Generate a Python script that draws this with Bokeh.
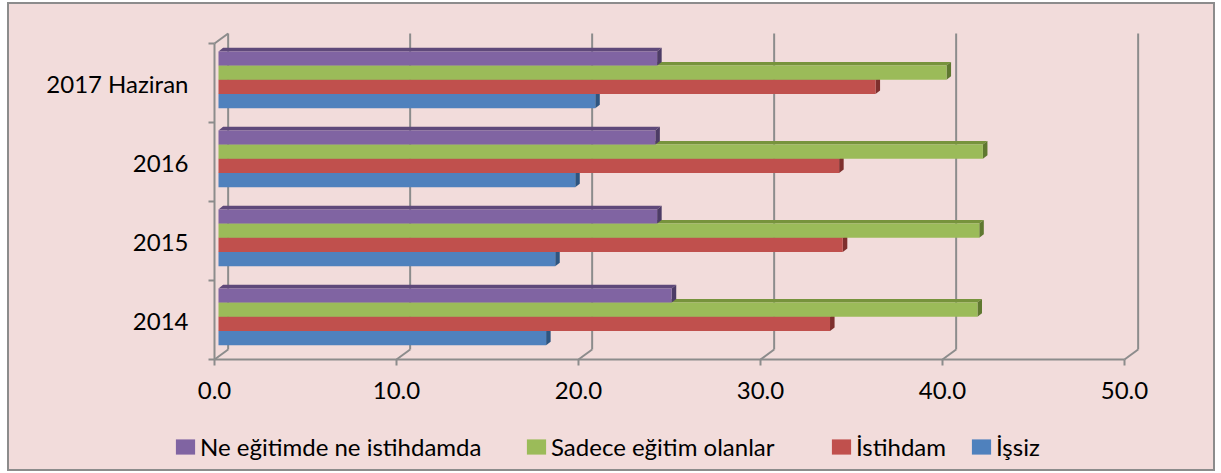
import numpy as np
from bokeh.plotting import figure
from bokeh.models import Range1d, FixedTicker, Legend, LegendItem, ColumnDataSource
from bokeh.embed import file_html
from bokeh.resources import INLINE

# ---------------- data ----------------
categories = ["2014", "2015", "2016", "2017 Haziran"]
issiz = [18.0, 18.5, 19.6, 20.7]
istihdam = [33.6, 34.3, 34.1, 36.1]
sadece_egitim = [41.7, 41.8, 42.0, 40.0]
neet = [24.9, 24.1, 24.0, 24.1]
series_names = ["İşsiz", "İstihdam", "Sadece eğitim olanlar", "Ne eğitimde ne istihdamda"]
x_ticks = [0, 10, 20, 30, 40, 50]
x_tick_labels = ["0.0", "10.0", "20.0", "30.0", "40.0", "50.0"]

# ---------------- style / layout ----------------
FRONT = ["#4F81BD", "#C0504D", "#9BBB59", "#8064A2"]
TOP = ["#3A659A", "#973B39", "#77933C", "#5F497A"]
SIDE = ["#2E5580", "#7E2F2D", "#5F7830", "#4D3C66"]
BG = "#F2DCDB"
GRID = "#8C8C8C"
FONT = "Lato"
FS = "24px"

W, H = 1208, 469
X0_PX, PX_PER_X = 207.0, 18.2     # screen position of x=0, pixels per unit
Y0_PX, PX_PER_Y = 357.0, 79.0     # screen position (from top) of y=0, pixels per category

BAR_X0 = 0.22   # bar origin shift (depth position)
BAR_H = 0.18
GROUP_OFF = 0.18
DX, DY = 0.25, 0.045        # bar depth
WALL_DX, WALL_DY = 0.75, 0.127  # wall depth

x_range = Range1d(-X0_PX / PX_PER_X, (W - X0_PX) / PX_PER_X)
y_range = Range1d(-(H - Y0_PX) / PX_PER_Y, Y0_PX / PX_PER_Y)

p = figure(width=W, height=H, output_backend="svg", toolbar_location=None,
           x_range=x_range, y_range=y_range,
           min_border_left=0, min_border_right=0, min_border_top=0, min_border_bottom=0)
p.background_fill_color = BG
p.border_fill_color = BG
p.outline_line_color = GRID
p.outline_line_width = 3
p.grid.visible = False
p.styles = {"margin-left": "7px", "margin-top": "2px"}

# walls
wx = np.array(x_ticks, dtype=float)
ncat = len(categories)
p.segment(x0=wx + WALL_DX, y0=np.full(len(wx), WALL_DY), x1=wx + WALL_DX,
          y1=np.full(len(wx), ncat + WALL_DY), line_color=GRID, line_width=2)
p.segment(x0=wx, y0=np.zeros(len(wx)), x1=wx + WALL_DX, y1=np.full(len(wx), WALL_DY),
          line_color=GRID, line_width=2)
p.segment(x0=[0], y0=[ncat], x1=[WALL_DX], y1=[ncat + WALL_DY],
          line_color=GRID, line_width=2)

# bars
series = [issiz, istihdam, sadece_egitim, neet]
front_renderers = []
for j, vals in enumerate(series):
    vals = np.array(vals, dtype=float)
    idx = np.arange(ncat)
    bottom = idx + GROUP_OFF + j * BAR_H
    top = bottom + BAR_H
    left = np.full(len(vals), BAR_X0)
    right = vals + BAR_X0
    top_xs = [[l, r, r + DX, l + DX] for l, r in zip(left, right)]
    top_ys = [[t, t, t + DY, t + DY] for t in top]
    side_xs = [[r, r + DX, r + DX, r] for r in right]
    side_ys = [[b, b + DY, t + DY, t] for b, t in zip(bottom, top)]
    p.patches(xs=top_xs, ys=top_ys, fill_color=TOP[j], line_color=None)
    p.patches(xs=side_xs, ys=side_ys, fill_color=SIDE[j], line_color=None)
    src = ColumnDataSource(dict(left=left, right=right, bottom=bottom, top=top))
    r = p.quad(left="left", right="right", bottom="bottom", top="top", source=src,
               fill_color=FRONT[j], line_color=None)
    front_renderers.append(r)

# axes (drawn at data zero inside the frame)
xa = p.xaxis[0]
xa.fixed_location = 0
xa.ticker = FixedTicker(ticks=x_ticks)
xa.major_label_overrides = {t: l for t, l in zip(x_ticks, x_tick_labels)}
xa.bounds = (x_ticks[0], x_ticks[-1])
xa.axis_line_color = GRID
xa.axis_line_width = 2
xa.major_tick_line_color = GRID
xa.major_tick_line_width = 2
xa.major_tick_out = 6
xa.major_tick_in = 0
xa.minor_tick_line_color = None
xa.major_label_text_font = FONT
xa.major_label_text_font_size = FS
xa.major_label_text_color = "black"
xa.major_label_standoff = 16

ya = p.yaxis[0]
ya.fixed_location = 0
centers = [i + 0.5 for i in range(ncat)]
ya.ticker = FixedTicker(ticks=centers, minor_ticks=list(range(ncat + 1)))
ya.major_label_overrides = {c: n for c, n in zip(centers, categories)}
ya.bounds = (0, ncat)
ya.axis_line_color = GRID
ya.axis_line_width = 2
ya.major_tick_line_color = None
ya.major_tick_out = 0
ya.major_tick_in = 0
ya.minor_tick_line_color = GRID
ya.minor_tick_line_width = 2
ya.minor_tick_out = 6
ya.minor_tick_in = 0
ya.major_label_text_font = FONT
ya.major_label_text_font_size = FS
ya.major_label_text_color = "black"
ya.major_label_standoff = 20

# legend entries, one legend per entry placed like the original
legend_order = [3, 2, 1, 0]
legend_x = [166, 517, 822, 962]   # screen px from frame left
legend_y = 10                     # screen px from frame bottom
for j, lx in zip(legend_order, legend_x):
    lg = Legend(items=[LegendItem(label=series_names[j], renderers=[front_renderers[j]])],
                orientation="horizontal", location=(lx, legend_y),
                label_text_font=FONT, label_text_font_size=FS, label_text_color="black",
                glyph_width=24, glyph_height=19, label_standoff=3, label_height=19,
                background_fill_alpha=0, border_line_color=None, margin=0, padding=0)
    p.add_layout(lg, "center")

open("out.html", "w").write(file_html(p, INLINE))
